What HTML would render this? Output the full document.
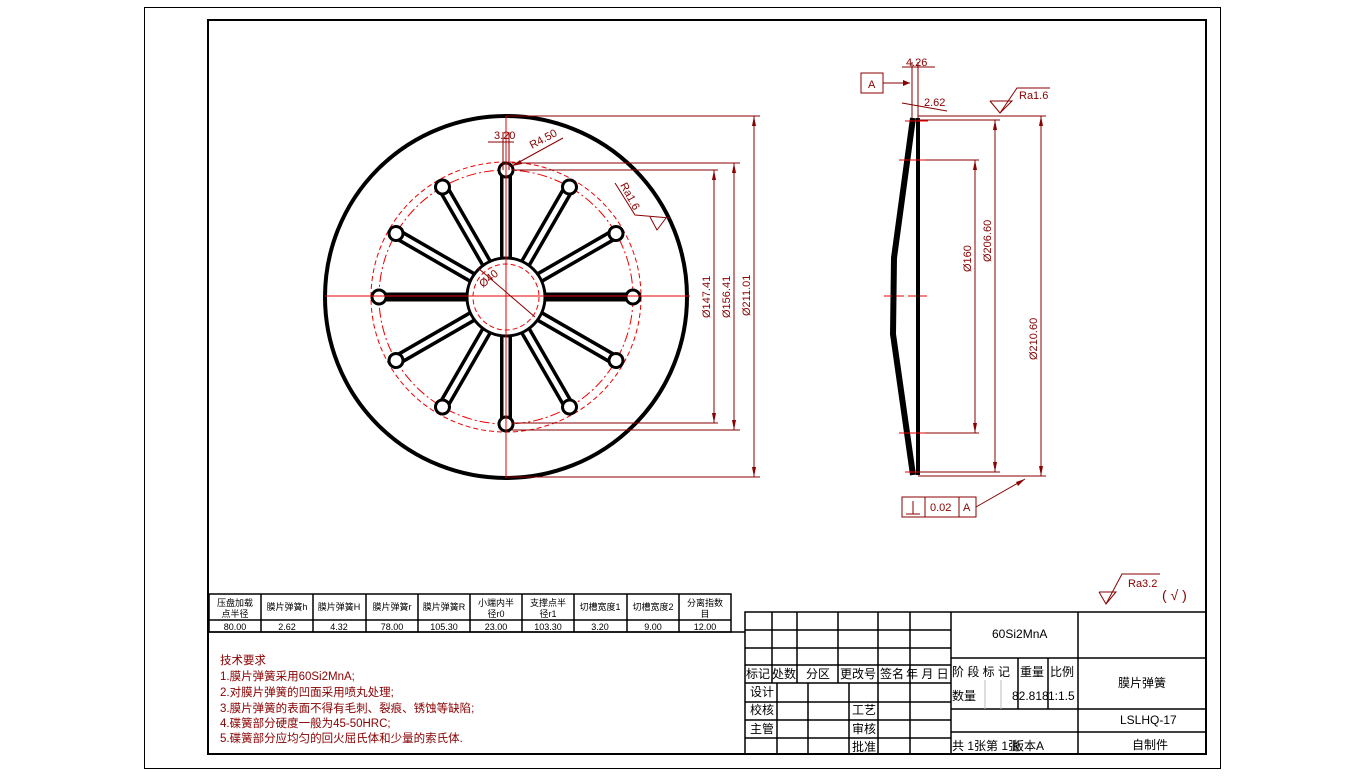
<!DOCTYPE html>
<html><head><meta charset="utf-8"><style>
html,body{margin:0;padding:0;background:#fff;}
svg{display:block;}
text{font-family:"Liberation Sans","Noto Sans CJK SC",sans-serif;}
</style></head><body>
<svg width="1365" height="776" viewBox="0 0 1365 776" xmlns="http://www.w3.org/2000/svg">
<rect x="0" y="0" width="1365" height="776" fill="#fff"/>
<rect x="144.5" y="7.5" width="1076" height="761" fill="none" stroke="#000" stroke-width="1"/>
<rect x="208" y="20" width="998" height="734" fill="none" stroke="#000" stroke-width="2"/>

<!-- FRONT VIEW -->
<g>
<circle cx="506" cy="297" r="181" fill="none" stroke="#000" stroke-width="4"/>
<circle cx="506" cy="297" r="127" fill="none" stroke="#e00" stroke-width="1" stroke-dasharray="10,3,2,3"/>
<circle cx="506" cy="297" r="135" fill="none" stroke="#e00" stroke-width="1" stroke-dasharray="5,3"/>
<g fill="none" stroke="#000">
<g id="sp">
<line x1="506" y1="258" x2="506" y2="172" stroke-width="12"/>
<line x1="506" y1="262" x2="506" y2="172" stroke="#fff" stroke-width="5"/>
<circle cx="506" cy="170" r="7" fill="#fff" stroke-width="3"/>
</g>
<g transform="rotate(30 506 297)"><line x1="506" y1="258" x2="506" y2="172" stroke-width="12"/><line x1="506" y1="262" x2="506" y2="172" stroke="#fff" stroke-width="5"/><circle cx="506" cy="170" r="7" fill="#fff" stroke-width="3"/></g>
<g transform="rotate(60 506 297)"><line x1="506" y1="258" x2="506" y2="172" stroke-width="12"/><line x1="506" y1="262" x2="506" y2="172" stroke="#fff" stroke-width="5"/><circle cx="506" cy="170" r="7" fill="#fff" stroke-width="3"/></g>
<g transform="rotate(90 506 297)"><line x1="506" y1="258" x2="506" y2="172" stroke-width="9"/><circle cx="506" cy="170" r="7" fill="#fff" stroke-width="3"/></g>
<g transform="rotate(120 506 297)"><line x1="506" y1="258" x2="506" y2="172" stroke-width="12"/><line x1="506" y1="262" x2="506" y2="172" stroke="#fff" stroke-width="5"/><circle cx="506" cy="170" r="7" fill="#fff" stroke-width="3"/></g>
<g transform="rotate(150 506 297)"><line x1="506" y1="258" x2="506" y2="172" stroke-width="12"/><line x1="506" y1="262" x2="506" y2="172" stroke="#fff" stroke-width="5"/><circle cx="506" cy="170" r="7" fill="#fff" stroke-width="3"/></g>
<g transform="rotate(180 506 297)"><line x1="506" y1="258" x2="506" y2="172" stroke-width="12"/><line x1="506" y1="262" x2="506" y2="172" stroke="#fff" stroke-width="5"/><circle cx="506" cy="170" r="7" fill="#fff" stroke-width="3"/></g>
<g transform="rotate(210 506 297)"><line x1="506" y1="258" x2="506" y2="172" stroke-width="12"/><line x1="506" y1="262" x2="506" y2="172" stroke="#fff" stroke-width="5"/><circle cx="506" cy="170" r="7" fill="#fff" stroke-width="3"/></g>
<g transform="rotate(240 506 297)"><line x1="506" y1="258" x2="506" y2="172" stroke-width="12"/><line x1="506" y1="262" x2="506" y2="172" stroke="#fff" stroke-width="5"/><circle cx="506" cy="170" r="7" fill="#fff" stroke-width="3"/></g>
<g transform="rotate(270 506 297)"><line x1="506" y1="258" x2="506" y2="172" stroke-width="9"/><circle cx="506" cy="170" r="7" fill="#fff" stroke-width="3"/></g>
<g transform="rotate(300 506 297)"><line x1="506" y1="258" x2="506" y2="172" stroke-width="12"/><line x1="506" y1="262" x2="506" y2="172" stroke="#fff" stroke-width="5"/><circle cx="506" cy="170" r="7" fill="#fff" stroke-width="3"/></g>
<g transform="rotate(330 506 297)"><line x1="506" y1="258" x2="506" y2="172" stroke-width="12"/><line x1="506" y1="262" x2="506" y2="172" stroke="#fff" stroke-width="5"/><circle cx="506" cy="170" r="7" fill="#fff" stroke-width="3"/></g>
<circle cx="506" cy="297" r="39" fill="#fff" stroke-width="3"/>
</g>
<circle cx="506" cy="297" r="33" fill="none" stroke="#e00" stroke-width="1" stroke-dasharray="5,3"/>
<line x1="325" y1="296" x2="690" y2="296" stroke="#e00" stroke-width="1"/>
<line x1="506" y1="116" x2="506" y2="478" stroke="#e00" stroke-width="1"/>
</g>

<!-- Front view dimensions -->
<g stroke="#800" stroke-width="1" fill="none">
<line x1="506" y1="116" x2="760" y2="116"/>
<line x1="506" y1="477" x2="760" y2="477"/>
<line x1="512" y1="163" x2="740" y2="163"/>
<line x1="512" y1="430" x2="740" y2="430"/>
<line x1="512" y1="170" x2="718" y2="170"/>
<line x1="512" y1="423" x2="718" y2="423"/>
<line x1="714" y1="170" x2="714" y2="423"/>
<line x1="734" y1="163" x2="734" y2="430"/>
<line x1="754" y1="116" x2="754" y2="477"/>
<line x1="488" y1="142" x2="514" y2="142"/>
<line x1="503" y1="132" x2="503" y2="170"/>
<line x1="509" y1="132" x2="509" y2="170"/>
<line x1="512" y1="166" x2="563" y2="138"/>
<line x1="478" y1="268" x2="535" y2="317"/>
<polyline points="615,183 635,215 670,218"/>
<polyline points="650,217 657,230 666,218"/>
</g>
<g fill="#800">
<polygon points="714,170 712,180 716,180"/><polygon points="714,423 712,413 716,413"/>
<polygon points="734,163 732,173 736,173"/><polygon points="734,430 732,420 736,420"/>
<polygon points="754,116 752,126 756,126"/><polygon points="754,477 752,467 756,467"/>
<polygon points="512,166 520,160 522,164"/>
</g>
<g fill="#800" font-size="11">
<text x="494" y="139">3.20</text>
<text x="532" y="149" transform="rotate(-28 532 149)">R4.50</text>
<text x="620" y="185" transform="rotate(62 620 185)">Ra1.6</text>
<text x="483" y="288" transform="rotate(-40 483 288)">Ø40</text>
<text transform="translate(710 318) rotate(-90)">Ø147.41</text>
<text transform="translate(730 318) rotate(-90)">Ø156.41</text>
<text transform="translate(750 316) rotate(-90)">Ø211.01</text>
</g>

<!-- SIDE VIEW -->
<polyline points="913,118 894,258 893,334 913,475" fill="none" stroke="#000" stroke-width="6"/>
<line x1="918" y1="118" x2="918" y2="475" stroke="#000" stroke-width="4"/>
<g stroke="#e00" stroke-width="1">
<line x1="884" y1="296" x2="927" y2="296" stroke-dasharray="8,4"/>
<line x1="905" y1="121" x2="928" y2="121"/>
<line x1="899" y1="160" x2="925" y2="160"/>
<line x1="899" y1="433" x2="925" y2="433"/>
<line x1="905" y1="472" x2="918" y2="472"/>
</g>
<g stroke="#800" stroke-width="1" fill="none">
<line x1="918" y1="116" x2="1046" y2="116"/>
<line x1="918" y1="476" x2="1046" y2="476"/>
<line x1="918" y1="120" x2="1000" y2="120"/>
<line x1="918" y1="472" x2="1000" y2="472"/>
<line x1="925" y1="160" x2="979" y2="160"/>
<line x1="925" y1="433" x2="979" y2="433"/>
<line x1="975" y1="160" x2="975" y2="433"/>
<line x1="995" y1="120" x2="995" y2="472"/>
<line x1="1041" y1="116" x2="1041" y2="476"/>
<line x1="912" y1="62" x2="912" y2="118"/>
<line x1="918" y1="62" x2="918" y2="118"/>
<line x1="902" y1="67" x2="935" y2="67"/>
<line x1="902" y1="103" x2="947" y2="111"/>
<rect x="861" y="73" width="22" height="20"/>
<line x1="883" y1="83" x2="910" y2="83"/>
<polyline points="990,101 1000,113 1012,101 990,101"/>
<polyline points="1000,113 1017,88 1050,88"/>
<rect x="902" y="497" width="74" height="20"/>
<line x1="925" y1="497" x2="925" y2="517"/>
<line x1="959" y1="497" x2="959" y2="517"/>
<line x1="976" y1="507" x2="1025" y2="479"/>
<line x1="906" y1="514" x2="920" y2="514"/>
<line x1="913" y1="501" x2="913" y2="514"/>
</g>
<g fill="#800">
<polygon points="975,160 973,170 977,170"/><polygon points="975,433 973,423 977,423"/>
<polygon points="995,120 993,130 997,130"/><polygon points="995,472 993,462 997,462"/>
<polygon points="1041,116 1039,126 1043,126"/><polygon points="1041,476 1039,466 1043,466"/>
<polygon points="910,83 903,80 903,86"/>
<polygon points="1025,479 1016,482 1018,486"/>
</g>
<g fill="#800" font-size="11">
<text x="906" y="66">4.26</text>
<text x="924" y="106">2.62</text>
<text x="868" y="88">A</text>
<text x="1019" y="99">Ra1.6</text>
<text x="930" y="511">0.02</text>
<text x="963" y="511">A</text>
<text transform="translate(971 272) rotate(-90)">Ø160</text>
<text transform="translate(991 262) rotate(-90)">Ø206.60</text>
<text transform="translate(1037 360) rotate(-90)">Ø210.60</text>
</g>

<!-- Ra3.2 -->
<g stroke="#800" fill="none" stroke-width="1">
<polyline points="1099,592 1106,604 1116,592 1099,592"/>
<polyline points="1106,604 1122,574 1160,574"/>
</g>
<text x="1128" y="587" fill="#800" font-size="11">Ra3.2</text>
<text x="1162" y="600" fill="#800" font-size="14">( √ )</text>

<!-- Parameter table -->
<g stroke="#000" stroke-width="1.5" fill="none">
<rect x="209" y="594" width="522" height="38"/>
<line x1="209" y1="620" x2="731" y2="620"/>
<line x1="261" y1="594" x2="261" y2="632"/><line x1="313" y1="594" x2="313" y2="632"/>
<line x1="366" y1="594" x2="366" y2="632"/><line x1="418" y1="594" x2="418" y2="632"/>
<line x1="470" y1="594" x2="470" y2="632"/><line x1="522" y1="594" x2="522" y2="632"/>
<line x1="574" y1="594" x2="574" y2="632"/><line x1="627" y1="594" x2="627" y2="632"/>
<line x1="679" y1="594" x2="679" y2="632"/>
<line x1="209" y1="632" x2="745" y2="632"/>
</g>
<g font-size="9" fill="#000" text-anchor="middle">
<text x="235" y="606">压盘加载</text><text x="235" y="617">点半径</text>
<text x="287" y="610">膜片弹簧h</text>
<text x="339" y="610">膜片弹簧H</text>
<text x="392" y="610">膜片弹簧r</text>
<text x="444" y="610">膜片弹簧R</text>
<text x="496" y="606">小端内半</text><text x="496" y="617">径r0</text>
<text x="548" y="606">支撑点半</text><text x="548" y="617">径r1</text>
<text x="600" y="610">切槽宽度1</text>
<text x="653" y="610">切槽宽度2</text>
<text x="705" y="606">分离指数</text><text x="705" y="617">目</text>
<text x="235" y="630">80.00</text><text x="287" y="630">2.62</text><text x="339" y="630">4.32</text>
<text x="392" y="630">78.00</text><text x="444" y="630">105.30</text><text x="496" y="630">23.00</text>
<text x="548" y="630">103.30</text><text x="600" y="630">3.20</text><text x="653" y="630">9.00</text>
<text x="705" y="630">12.00</text>
</g>
<g font-size="11.5" fill="#800">
<text x="220" y="664">技术要求</text>
<text x="220" y="680">1.膜片弹簧采用60Si2MnA;</text>
<text x="220" y="696">2.对膜片弹簧的凹面采用喷丸处理;</text>
<text x="220" y="712">3.膜片弹簧的表面不得有毛刺、裂痕、锈蚀等缺陷;</text>
<text x="220" y="727">4.碟簧部分硬度一般为45-50HRC;</text>
<text x="220" y="742">5.碟簧部分应均匀的回火屈氏体和少量的索氏体.</text>
</g>

<!-- Title block -->
<g stroke="#000" stroke-width="1.5" fill="none">
<rect x="745" y="612" width="461" height="142"/>
<line x1="745" y1="630" x2="951" y2="630"/>
<line x1="745" y1="648" x2="951" y2="648"/>
<line x1="745" y1="665" x2="951" y2="665"/>
<line x1="745" y1="683" x2="951" y2="683"/>
<line x1="745" y1="702" x2="951" y2="702"/>
<line x1="745" y1="720" x2="951" y2="720"/>
<line x1="745" y1="738" x2="951" y2="738"/>
<line x1="772" y1="612" x2="772" y2="683"/>
<line x1="797" y1="612" x2="797" y2="683"/>
<line x1="838" y1="612" x2="838" y2="683"/>
<line x1="878" y1="612" x2="878" y2="754"/>
<line x1="910" y1="612" x2="910" y2="754"/>
<line x1="777" y1="683" x2="777" y2="754"/>
<line x1="808" y1="683" x2="808" y2="754"/>
<line x1="849" y1="683" x2="849" y2="754"/>
<line x1="951" y1="612" x2="951" y2="754"/>
<line x1="1078" y1="612" x2="1078" y2="754"/>
<line x1="951" y1="658" x2="1206" y2="658"/>
<line x1="951" y1="709" x2="1206" y2="709"/>
<line x1="951" y1="732" x2="1206" y2="732"/>
<line x1="1018" y1="658" x2="1018" y2="709"/>
<line x1="1048" y1="658" x2="1048" y2="709"/>
</g>
<g stroke="#bbb" stroke-width="1">
<line x1="985" y1="680" x2="985" y2="709"/><line x1="1001" y1="680" x2="1001" y2="709"/>
</g>
<g font-size="12" fill="#000">
<text x="746" y="678">标记</text><text x="772" y="678">处数</text><text x="806" y="678">分区</text>
<text x="840" y="678">更改号</text><text x="880" y="678">签名</text><text x="906" y="678">年 月 日</text>
<text x="750" y="696">设计</text><text x="750" y="714">校核</text><text x="750" y="733">主管</text>
<text x="852" y="714">工艺</text><text x="852" y="733">审核</text><text x="852" y="751">批准</text>
<text x="952" y="676">阶 段 标 记</text><text x="1020" y="676">重量</text><text x="1050" y="676">比例</text>
<text x="952" y="700">数量</text><text x="1012" y="700">82.818</text><text x="1048" y="700">1:1.5</text>
<text x="952" y="750">共 1张第 1张</text><text x="1012" y="750">版本A</text>
<text x="1118" y="687">膜片弹簧</text>
<text x="1120" y="724">LSLHQ-17</text>
<text x="1132" y="749">自制件</text>
<text x="992" y="638">60Si2MnA</text>
</g>
</svg>
</body></html>
